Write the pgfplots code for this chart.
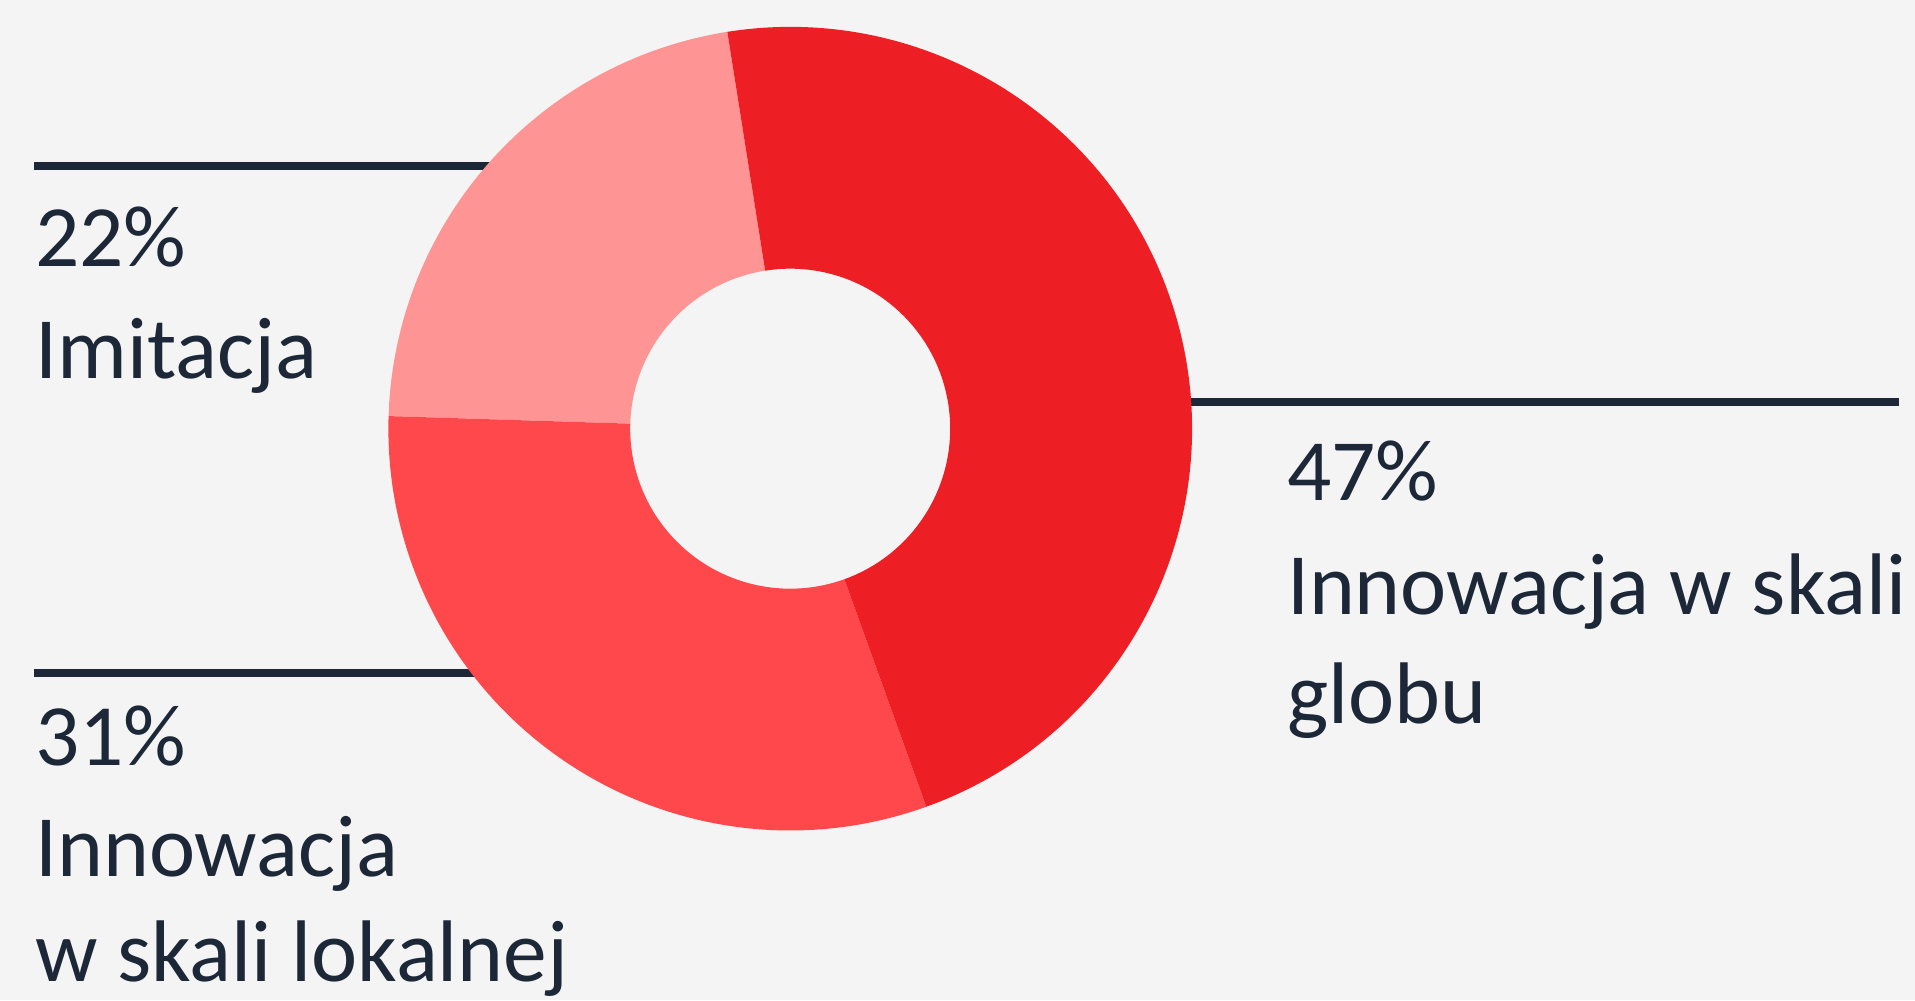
\documentclass[border=0pt]{standalone}
\usepackage{fontspec}
\setmainfont{Carlito}
\usepackage{pgfplots}
\usepackage{pgfplotstable}
\pgfplotsset{compat=1.18}
\definecolor{bgGray}{HTML}{F4F4F4}
\definecolor{navy}{HTML}{1C2838}
\definecolor{cGlobal}{HTML}{ED1E24}
\definecolor{cLocal}{HTML}{FF484B}
\definecolor{cImit}{HTML}{FF9494}

% shares in percent, counter-clockwise from the top
\pgfplotstableread{
label value
Imitacja 22
Lokalna 31
Globalna 47
}\shares

\begin{document}
\begin{tikzpicture}
\pgfplotstablegetelem{0}{value}\of\shares \let\vA\pgfplotsretval
\pgfplotstablegetelem{1}{value}\of\shares \let\vB\pgfplotsretval
\pgfplotstablegetelem{2}{value}\of\shares \let\vC\pgfplotsretval
\pgfmathsetmacro\aA{99}
\pgfmathsetmacro\aB{\aA+3.6*\vA}
\pgfmathsetmacro\aC{\aB+3.6*\vB}
\pgfmathsetmacro\aD{\aC+3.6*\vC}
\def\Ro{82.25pt}
\def\Ri{32.75pt}
\begin{axis}[
    scale only axis,
    width=392pt, height=204.75pt,
    xmin=0, xmax=1568, ymin=0, ymax=819,
    hide axis, clip=false,
]
\fill[bgGray] (axis cs:0,0) rectangle (axis cs:1568,819);
% leader lines
\draw[navy, line width=1.6pt] (axis cs:28,683) -- (axis cs:430,683);
\draw[navy, line width=1.6pt] (axis cs:28,268) -- (axis cs:420,268);
\draw[navy, line width=1.6pt] (axis cs:940,490) -- (axis cs:1555,490);
% donut slices
\fill[cImit] ([shift={(\aA:\Ro)}]axis cs:647,468) arc[start angle=\aA, end angle=\aB, radius=\Ro]
  -- ([shift={(\aB:\Ri)}]axis cs:647,468) arc[start angle=\aB, end angle=\aA, radius=\Ri] -- cycle;
\fill[cLocal] ([shift={(\aB:\Ro)}]axis cs:647,468) arc[start angle=\aB, end angle=\aC, radius=\Ro]
  -- ([shift={(\aC:\Ri)}]axis cs:647,468) arc[start angle=\aC, end angle=\aB, radius=\Ri] -- cycle;
\fill[cGlobal] ([shift={(\aC:\Ro)}]axis cs:647,468) arc[start angle=\aC, end angle=\aD, radius=\Ro]
  -- ([shift={(\aD:\Ri)}]axis cs:647,468) arc[start angle=\aD, end angle=\aC, radius=\Ri] -- cycle;
% labels
\tikzset{lab/.style={anchor=base west, inner sep=0pt, text=navy, font=\fontsize{17.9}{23}\selectfont}}
\node[lab] at (axis cs:28,601) {22\%};
\node[lab] at (axis cs:28,509) {Imitacja};
\node[lab] at (axis cs:28,192) {31\%};
\node[lab] at (axis cs:28,101) {Innowacja};
\node[lab] at (axis cs:28,15) {w skali lokalnej};
\node[lab] at (axis cs:1053,409) {47\%};
\node[lab] at (axis cs:1053,316) {Innowacja w skali};
\node[lab] at (axis cs:1053,227) {globu};
\end{axis}
\pgfresetboundingbox
\path (current axis.south west) rectangle (current axis.north east);
\end{tikzpicture}
\end{document}
